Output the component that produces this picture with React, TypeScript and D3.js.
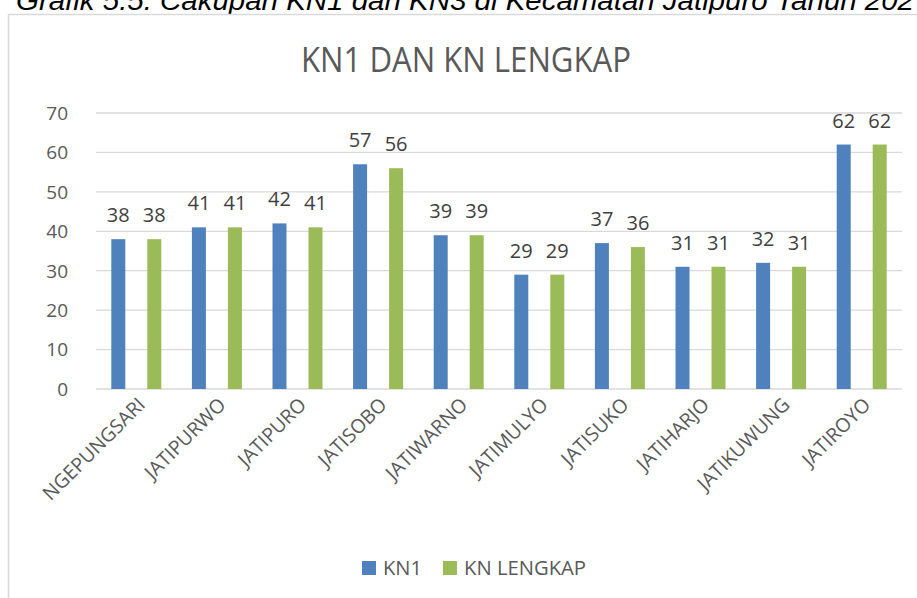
import {useEffect, useRef} from 'react';
import * as d3 from 'd3';

const categories = ['NGEPUNGSARI', 'JATIPURWO', 'JATIPURO', 'JATISOBO', 'JATIWARNO', 'JATIMULYO', 'JATISUKO', 'JATIHARJO', 'JATIKUWUNG', 'JATIROYO'];
const seriesNames = ['KN1', 'KN LENGKAP'];
const kn1 = [38, 41, 42, 57, 39, 29, 37, 31, 32, 62];
const knLengkap = [38, 41, 41, 56, 39, 29, 36, 31, 31, 62];
const yTicks = [0, 10, 20, 30, 40, 50, 60, 70];
const colors = ['#4f81bd', '#9bbb59'];

const W = 917;
const H = 598;
const FONT = '"Open Sans", "Noto Sans", sans-serif';

const App = () => {
  const svgRef = useRef<SVGSVGElement>(null);

  useEffect(() => {
    document.body.style.margin = '0';
    const svg = d3.select(svgRef.current);
    svg.selectAll('*').remove();

    // caption above the chart box (clipped by the page top, as in the source)
    svg.append('text')
      .attr('x', 16)
      .attr('y', 10)
      .attr('textLength', 898)
      .attr('lengthAdjust', 'spacingAndGlyphs')
      .style('font-family', '"Liberation Sans", Arial, sans-serif')
      .style('font-style', 'italic')
      .style('font-size', '27px')
      .attr('fill', '#000')
      .text('Grafik 5.5. Cakupan KN1 dan KN3 di Kecamatan Jatipuro Tahun  202');

    // chart area border
    svg.append('rect')
      .attr('x', 8.5)
      .attr('y', 14.5)
      .attr('width', W + 10)
      .attr('height', H + 10)
      .attr('fill', 'white')
      .attr('stroke', '#d9d9d9')
      .attr('stroke-width', 1.5);

    // title
    svg.append('text')
      .attr('x', 466)
      .attr('y', 72)
      .attr('text-anchor', 'middle')
      .attr('textLength', 330)
      .attr('lengthAdjust', 'spacingAndGlyphs')
      .style('font-family', FONT)
      .style('font-size', '34px')
      .attr('fill', '#595959')
      .text('KN1 DAN KN LENGKAP');

    const xScale = d3.scaleBand().domain(categories).range([96, 902]);
    const xSub = d3.scalePoint().domain(seriesNames).range([-18, 18]);
    const yScale = d3.scaleLinear().domain([0, 70]).range([389, 113]);
    const barW = 14;

    // gridlines
    svg.append('g')
      .selectAll('line')
      .data(yTicks)
      .enter().append('line')
      .attr('x1', 96)
      .attr('x2', 902)
      .attr('y1', d => yScale(d))
      .attr('y2', d => yScale(d))
      .attr('stroke', '#d9d9d9')
      .attr('stroke-width', 1.3);

    // y tick labels
    svg.append('g')
      .selectAll('text')
      .data(yTicks)
      .enter().append('text')
      .attr('x', 68)
      .attr('y', d => yScale(d))
      .attr('dy', '0.36em')
      .attr('text-anchor', 'end')
      .style('font-family', FONT)
      .style('font-size', '19px')
      .attr('fill', '#595959')
      .text(d => d);

    const series = [kn1, knLengkap];
    series.forEach((vals, si) => {
      const g = svg.append('g');
      const cx = (i: number) => (xScale(categories[i]) as number) + xScale.bandwidth() / 2 + (xSub(seriesNames[si]) as number);
      g.selectAll('rect')
        .data(vals)
        .enter().append('rect')
        .attr('x', (d, i) => cx(i) - barW / 2)
        .attr('y', d => yScale(d))
        .attr('width', barW)
        .attr('height', d => yScale(0) - yScale(d))
        .attr('fill', colors[si]);
      g.selectAll('text')
        .data(vals)
        .enter().append('text')
        .attr('x', (d, i) => cx(i))
        .attr('y', d => yScale(d) - 17)
        .attr('text-anchor', 'middle')
        .style('font-family', FONT)
        .style('font-size', '20px')
        .attr('fill', '#404040')
        .text(d => d);
    });

    // category labels, rotated
    svg.append('g')
      .selectAll('text')
      .data(categories)
      .enter().append('text')
      .attr('transform', d => `translate(${(xScale(d) as number) + xScale.bandwidth() / 2 + 10}, 406) rotate(-45)`)
      .attr('text-anchor', 'end')
      .style('font-family', FONT)
      .style('font-size', '19.5px')
      .attr('fill', '#595959')
      .text(d => d);

    // legend
    const legend = svg.append('g').attr('transform', 'translate(362, 561)');
    const legendX = [0, 81];
    seriesNames.forEach((name, i) => {
      legend.append('rect')
        .attr('x', legendX[i])
        .attr('y', 0)
        .attr('width', 14)
        .attr('height', 14)
        .attr('fill', colors[i]);
      legend.append('text')
        .attr('x', legendX[i] + 21)
        .attr('y', 7)
        .attr('dy', '0.36em')
        .attr('textLength', i === 0 ? 39 : 122)
        .attr('lengthAdjust', 'spacingAndGlyphs')
        .style('font-family', FONT)
        .style('font-size', '20px')
        .attr('fill', '#595959')
        .text(name);
    });
  }, []);

  return <svg ref={svgRef} width={W} height={H} style={{display: 'block', background: 'white'}} />;
};

export default App;
